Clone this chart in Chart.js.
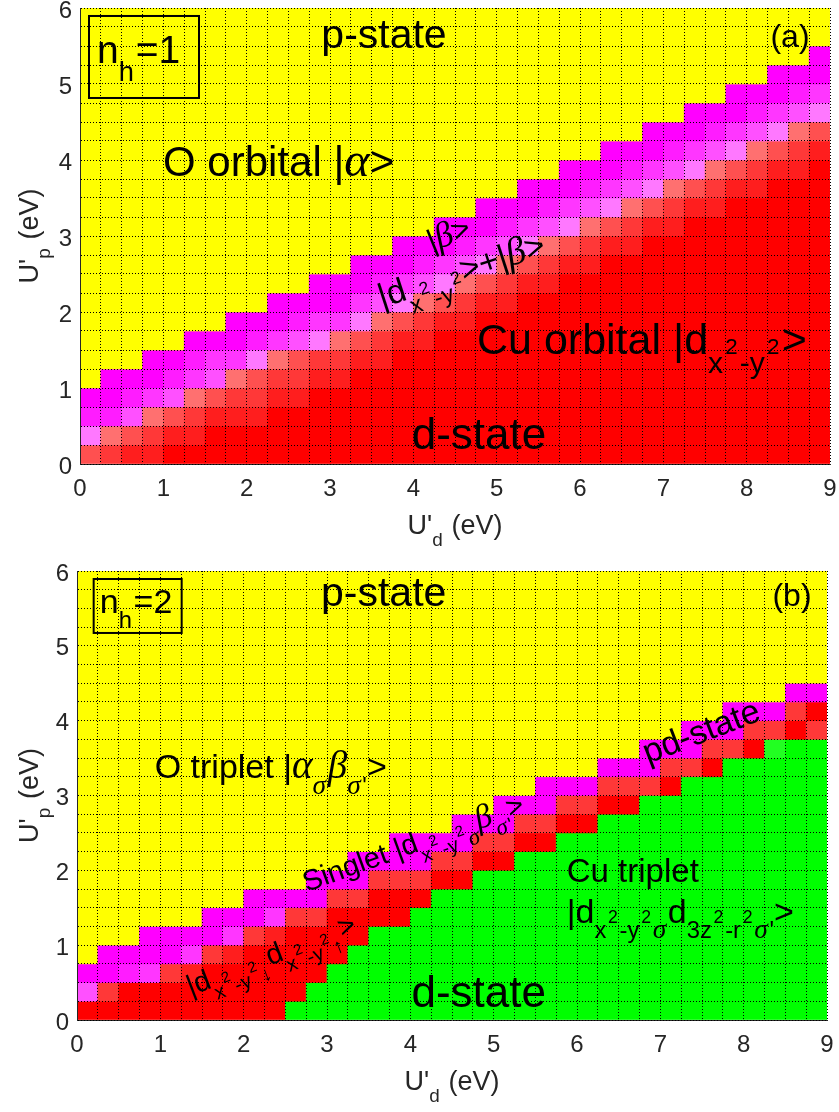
<!DOCTYPE html>
<html><head><meta charset="utf-8">
<script src="https://cdn.jsdelivr.net/npm/chart.js@4.4.1/dist/chart.umd.min.js"></script>
<style>
html,body{margin:0;padding:0;background:#fff;width:839px;height:1112px;overflow:hidden}
.p{position:absolute;left:0;width:839px;height:556px}
canvas{display:block}
</style></head><body>
<div class="p" style="top:0"><canvas id="ca" width="839" height="556"></canvas></div>
<div class="p" style="top:556px"><canvas id="cb" width="839" height="556"></canvas></div>
<script>
// ---------------- data ----------------
const xCells = [0.125,0.375,0.625,0.875,1.125,1.375,1.625,1.875,2.125,2.375,2.625,2.875,3.125,3.375,3.625,3.875,4.125,4.375,4.625,4.875,5.125,5.375,5.625,5.875,6.125,6.375,6.625,6.875,7.125,7.375,7.625,7.875,8.125,8.375,8.625,8.875];
const yEdges = [0,0.25,0.5,0.75,1,1.25,1.5,1.75,2,2.25,2.5,2.75,3,3.25,3.5,3.75,4,4.25,4.5,4.75,5,5.25,5.5,5.75,6];
const xTickValues = [0,1,2,3,4,5,6,7,8,9];
const xTickLabels = ['0','1','2','3','4','5','6','7','8','9'];
const yTickValues = [0,1,2,3,4,5,6];
const yTickLabels = ['0','1','2','3','4','5','6'];

// state code of every cell, one string per U'd column, read bottom (U'p=0) to top (U'p=6)
// Y = p-state, 0..4 = magenta -> light pink (mixed), 5..9 = salmon -> red (d-state), G/g = Cu triplet
const panelA = [
"6410YYYYYYYYYYYYYYYYYYYY",
"75100YYYYYYYYYYYYYYYYYYY",
"86310YYYYYYYYYYYYYYYYYYY",
"875200YYYYYYYYYYYYYYYYYY",
"986310YYYYYYYYYYYYYYYYYY",
"9875210YYYYYYYYYYYYYYYYY",
"9986320YYYYYYYYYYYYYYYYY",
"99875200YYYYYYYYYYYYYYYY",
"99876410YYYYYYYYYYYYYYYY",
"999875200YYYYYYYYYYYYYYY",
"999876310YYYYYYYYYYYYYYY",
"9999874200YYYYYYYYYYYYYY",
"9999875200YYYYYYYYYYYYYY",
"99999864200YYYYYYYYYYYYY",
"99999875310YYYYYYYYYYYYY",
"999999864200YYYYYYYYYYYY",
"999999875310YYYYYYYYYYYY",
"9999999864200YYYYYYYYYYY",
"9999999875310YYYYYYYYYYY",
"99999999864200YYYYYYYYYY",
"99999999875310YYYYYYYYYY",
"999999999864200YYYYYYYYY",
"999999999875310YYYYYYYYY",
"9999999999864200YYYYYYYY",
"9999999999875310YYYYYYYY",
"99999999999864200YYYYYYY",
"99999999999875310YYYYYYY",
"999999999999864200YYYYYY",
"999999999999875310YYYYYY",
"9999999999999864200YYYYY",
"9999999999999875310YYYYY",
"99999999999999864200YYYY",
"99999999999999875310YYYY",
"999999999999999864200YYY",
"999999999999999875310YYY",
"9999999999999999864200YY"
];
const panelB = [
"930YYYYYYYYYYYYYYYYYYYYY",
"9700YYYYYYYYYYYYYYYYYYYY",
"9910YYYYYYYYYYYYYYYYYYYY",
"99200YYYYYYYYYYYYYYYYYYY",
"99700YYYYYYYYYYYYYYYYYYY",
"99820YYYYYYYYYYYYYYYYYYY",
"999700YYYYYYYYYYYYYYYYYY",
"999820YYYYYYYYYYYYYYYYYY",
"9999700YYYYYYYYYYYYYYYYY",
"9999820YYYYYYYYYYYYYYYYY",
"G999970YYYYYYYYYYYYYYYYY",
"GG999700YYYYYYYYYYYYYYYY",
"GGG99970YYYYYYYYYYYYYYYY",
"GGGG99700YYYYYYYYYYYYYYY",
"GGGGG9970YYYYYYYYYYYYYYY",
"GGGGG99700YYYYYYYYYYYYYY",
"GGGGGG9700YYYYYYYYYYYYYY",
"GGGGGGG970YYYYYYYYYYYYYY",
"GGGGGGG9700YYYYYYYYYYYYY",
"GGGGGGGG970YYYYYYYYYYYYY",
"GGGGGGGG9700YYYYYYYYYYYY",
"GGGGGGGGG970YYYYYYYYYYYY",
"GGGGGGGGG9700YYYYYYYYYYY",
"GGGGGGGGGG970YYYYYYYYYYY",
"GGGGGGGGGG970YYYYYYYYYYY",
"GGGGGGGGGGG970YYYYYYYYYY",
"GGGGGGGGGGG970YYYYYYYYYY",
"GGGGGGGGGGGG700YYYYYYYYY",
"GGGGGGGGGGGG970YYYYYYYYY",
"GGGGGGGGGGGGG700YYYYYYYY",
"GGGGGGGGGGGGG970YYYYYYYY",
"GGGGGGGGGGGGGG700YYYYYYY",
"GGGGGGGGGGGGGG970YYYYYYY",
"GGGGGGGGGGGGGGg70YYYYYYY",
"GGGGGGGGGGGGGGG970YYYYYY",
"GGGGGGGGGGGGGGG790YYYYYY"
];
const stateColors = {
  Y:'#ffff00',
  '0':'#ff00ff','1':'#ff1cff','2':'#ff36ff','3':'#ff50ff','4':'#ff78ff',
  '5':'#ff7070','6':'#ff5050','7':'#ff3838','8':'#ff1e1e','9':'#ff0000',
  G:'#00ff00', g:'#22ff22'
};

[panelA, panelB].forEach((p, k) => p.forEach((s, i) => {
  if (s.length !== 24) throw new Error('panel ' + k + ' column ' + i + ' has length ' + s.length);
}));

// ---------------- rich text ----------------
const FONT = '"Liberation Sans", Arial, Helvetica, sans-serif';
const GREEK = '"Liberation Serif", "DejaVu Serif", serif';
const T  = (t) => ({t, s:1, dy:0});
const Sb = (t) => ({t, s:0.7, dy:0.45, pad:0.05});
const Ss = (t) => ({t, s:0.52, dy:0, pad:0.05});
const Gk = (t, s = 1, dy = 0) => ({t, s, dy, g:true, pad: s < 1 ? 0.05 : 0});
const dX2Y2 = [Sb('x'), Ss('2'), Sb('-y'), Ss('2')];

function drawRich(ctx, segs, x, y, size, align, rot, color, vb) {
  ctx.save();
  ctx.translate(x, y);
  ctx.rotate((rot || 0) * Math.PI / 180);
  ctx.fillStyle = color || '#000';
  ctx.textAlign = 'left';
  ctx.textBaseline = vb || 'alphabetic';
  const fontFor = (sg) => sg.g ? `italic ${size * sg.s * 1.15}px ${GREEK}` : `${size * sg.s}px ${FONT}`;
  let W = 0;
  const ws = segs.map(sg => { ctx.font = fontFor(sg); const w = ctx.measureText(sg.t).width + (sg.pad || 0) * size; W += w; return w; });
  let cx = align === 'center' ? -W / 2 : (align === 'right' ? -W : 0);
  segs.forEach((sg, i) => { ctx.font = fontFor(sg); ctx.fillText(sg.t, cx, sg.dy * size); cx += ws[i]; });
  ctx.restore();
}

const notesPlugin = {
  id: 'notes',
  afterDraw(chart, args, opts) {
    const ctx = chart.ctx, xs = chart.scales.x, ys = chart.scales.y, ca = chart.chartArea;
    for (const n of opts.items) {
      if (n.box) {
        const x0 = xs.getPixelForValue(n.box[0]), y0 = ys.getPixelForValue(n.box[1]);
        const x1 = xs.getPixelForValue(n.box[2]), y1 = ys.getPixelForValue(n.box[3]);
        ctx.save(); ctx.strokeStyle = '#000'; ctx.lineWidth = 2;
        ctx.strokeRect(x0, y0, x1 - x0, y1 - y0); ctx.restore();
      } else {
        drawRich(ctx, n.segs, xs.getPixelForValue(n.u), ys.getPixelForValue(n.v), n.size, n.align, n.rot, '#000', n.vb);
      }
    }
    drawRich(ctx, [T("U'"), Sb('d'), T(' (eV)')], (ca.left + ca.right) / 2, ca.bottom + 70, 27, 'center', 0, '#262626');
    drawRich(ctx, [T("U'"), Sb('p'), T(' (eV)')], 38, (ca.top + ca.bottom) / 2, 27, 'center', -90, '#262626');
  }
};

function makeChart(id, columns, geom, items) {
  const cells = [];
  columns.forEach((col, c) => {
    for (let r = 0; r < col.length; r++) cells.push({x: xCells[c], y: [yEdges[r], yEdges[r + 1]], code: col[r]});
  });
  const tickFont = {size: 24, family: FONT};
  return new Chart(document.getElementById(id), {
    type: 'bar',
    data: { datasets: [{
      data: cells,
      backgroundColor: (ctx) => stateColors[ctx.raw.code],
      borderWidth: 0, barPercentage: 1, categoryPercentage: 1, grouped: false
    }]},
    options: {
      responsive: false, animation: false, events: [],
      layout: {padding: {top: geom.top, right: geom.right, left: 0, bottom: 0}},
      plugins: {legend: {display: false}, tooltip: {enabled: false}, notes: {items}},
      scales: {
        x: {
          type: 'linear', min: 0, max: 9, offset: false,
          afterFit: (s) => { s.height = 92; s.paddingLeft = 0; s.paddingRight = 0; },
          ticks: {stepSize: 0.25, autoSkip: false, maxRotation: 0, padding: 11, color: '#262626', font: tickFont,
            callback: (v) => { const i = xTickValues.indexOf(v); return i >= 0 ? xTickLabels[i] : ''; }},
          grid: {color: '#000', lineWidth: 1, drawTicks: false, offset: false, z: 1},
          border: {display: true, color: '#262626', width: 1, dash: [1, 2], z: 1}
        },
        y: {
          type: 'linear', min: 0, max: 6,
          afterFit: (s) => { s.width = geom.yw; s.paddingTop = 0; s.paddingBottom = 0; },
          ticks: {stepSize: 0.25, autoSkip: false, padding: 8, labelOffset: 3, color: '#262626', font: tickFont,
            callback: (v) => { const i = yTickValues.indexOf(v); return i >= 0 ? yTickLabels[i] : ''; }},
          grid: {color: '#000', lineWidth: 1, drawTicks: false, z: 1},
          border: {display: true, color: '#262626', width: 1, dash: [1, 2], z: 1}
        }
      }
    },
    plugins: [notesPlugin]
  });
}

const notesA = [
  {segs: [T('p-state')], u: 3.648, v: 5.47, size: 41, align: 'center'},
  {segs: [T('(a)')], u: 8.52, v: 5.49, size: 32, align: 'center'},
  {box: [0.108, 5.895, 1.428, 4.816]},
  {segs: [T('n'), Sb('h'), T('=1')], u: 0.204, v: 5.276, size: 39},
  {segs: [T('O orbital |'), Gk('α'), T('>')], u: 0.996, v: 3.79, size: 42},
  {segs: [T('|'), Gk('β'), T('>')], u: 4.224, v: 2.789, size: 31, rot: -22},
  {segs: [T('|d'), ...dX2Y2, T('>+|'), Gk('β'), T('>')], u: 3.624, v: 2.053, size: 34, rot: -18},
  {segs: [T('Cu orbital |d'), ...dX2Y2, T('>')], u: 4.764, v: 1.447, size: 43},
  {segs: [T('d-state')], u: 4.788, v: 0.197, size: 44, align: 'center'}
];
const notesB = [
  {segs: [T('p-state')], u: 3.68, v: 5.53, size: 41, align: 'center'},
  {segs: [T('(b)')], u: 8.58, v: 5.53, size: 32, align: 'center'},
  {box: [0.2, 5.893, 1.256, 5.172]},
  {segs: [T('n'), Sb('h'), T('=2')], u: 0.273, v: 5.44, size: 34},
  {segs: [T('O triplet |'), Gk('α'), Gk('σ', .7, .45), Gk('β'), Gk('σ', .7, .45), {t: "'", s: .7, dy: .45}, T('>')], u: 0.932, v: 3.23, size: 34},
  {segs: [T('pd-state')], u: 7.497, v: 3.835, size: 34, rot: -21, align: 'center', vb: 'middle'},
  {segs: [T('Singlet |d'), ...dX2Y2, Gk('σ', .7, .45), Gk('β'), Gk('σ', .7, .45), {t: "'", s: .7, dy: .45}, T('>')], u: 2.757, v: 1.711, size: 29, rot: -20},
  {segs: [T('Cu triplet')], u: 5.877, v: 1.844, size: 33},
  {segs: [T('|d'), ...dX2Y2, Gk('σ', .7, .45), T('d'), Sb('3z'), Ss('2'), Sb('-r'), Ss('2'), Gk('σ', .7, .45), {t: "'", s: .7, dy: .45}, T('>')], u: 5.877, v: 1.296, size: 34},
  {segs: [T('|d'), ...dX2Y2, Sb('↓'), T('d'), ...dX2Y2, Sb('↑'), T('>')], u: 1.364, v: 0.321, size: 29, rot: -21},
  {segs: [T('d-state')], u: 4.82, v: 0.174, size: 44, align: 'center'}
];

makeChart('ca', panelA, {top: 8, right: 9, yw: 80}, notesA);
makeChart('cb', panelB, {top: 15, right: 12, yw: 77}, notesB);
</script></body></html>
